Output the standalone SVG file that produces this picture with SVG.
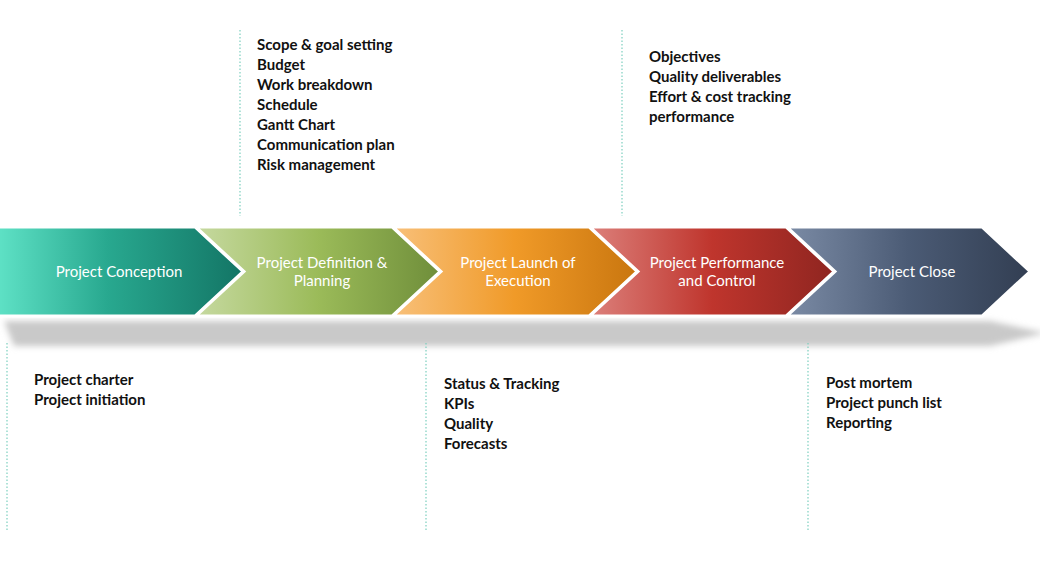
<svg xmlns="http://www.w3.org/2000/svg" width="1040" height="569" viewBox="0 0 1040 569">
<style>
.lbl{font-family:Lato,"Open Sans","Liberation Sans",sans-serif;font-size:15px;fill:#ffffff;text-anchor:middle}
.note{font-family:Lato,"Open Sans","Liberation Sans",sans-serif;font-size:15px;font-weight:bold;fill:#111111}
.lead{stroke:#7ccfbf;stroke-width:1.2;stroke-dasharray:1.5 2;fill:none}
.chev{stroke:#ffffff;stroke-width:3;stroke-linejoin:miter}
</style>
<defs>
<linearGradient id="g1" x1="0" x2="1" y1="0" y2="0"><stop offset="0" stop-color="#5fe2c6"/><stop offset="0.45" stop-color="#28a88f"/><stop offset="1" stop-color="#137565"/></linearGradient>
<linearGradient id="g2" x1="0" x2="1" y1="0" y2="0"><stop offset="0" stop-color="#c6d9a0"/><stop offset="0.5" stop-color="#9bbb59"/><stop offset="1" stop-color="#6f8e3a"/></linearGradient>
<linearGradient id="g3" x1="0" x2="1" y1="0" y2="0"><stop offset="0" stop-color="#f8c07a"/><stop offset="0.5" stop-color="#f09a28"/><stop offset="1" stop-color="#c9760f"/></linearGradient>
<linearGradient id="g4" x1="0" x2="1" y1="0" y2="0"><stop offset="0" stop-color="#dc807b"/><stop offset="0.5" stop-color="#bf352d"/><stop offset="1" stop-color="#8f2520"/></linearGradient>
<linearGradient id="g5" x1="0" x2="1" y1="0" y2="0"><stop offset="0" stop-color="#7b8ba5"/><stop offset="0.5" stop-color="#4b5b75"/><stop offset="1" stop-color="#323e52"/></linearGradient>
<filter id="blur" x="-5%" y="-50%" width="110%" height="200%"><feGaussianBlur stdDeviation="3"/></filter>
</defs>
<rect width="1040" height="569" fill="#ffffff"/>
<polygon points="4,321 990,321 1046,333 990,346 14,346" fill="#c9c9c9" filter="url(#blur)"/>
<g id="connectors">
<line class="lead" x1="240" y1="30" x2="240" y2="216"/>
<line class="lead" x1="622" y1="30" x2="622" y2="216"/>
<line class="lead" x1="7" y1="343" x2="7" y2="530"/>
<line class="lead" x1="426" y1="343" x2="426" y2="530"/>
<line class="lead" x1="808" y1="343" x2="808" y2="530"/>
</g>
<g id="node1">
<polygon class="chev" fill="url(#g1)" points="-3,227 195,227 243,271.5 195,316 -3,316"/>
<text class="lbl" x="119" y="277">Project Conception</text>
</g>
<g id="node2">
<polygon class="chev" fill="url(#g2)" points="196,227 392,227 440,271.5 392,316 196,316 244,271.5"/>
<text class="lbl" x="322" y="268">Project Definition &amp;</text>
<text class="lbl" x="322" y="286">Planning</text>
</g>
<g id="node3">
<polygon class="chev" fill="url(#g3)" points="393,227 589,227 637,271.5 589,316 393,316 441,271.5"/>
<text class="lbl" x="518" y="268">Project Launch of</text>
<text class="lbl" x="518" y="286">Execution</text>
</g>
<g id="node4">
<polygon class="chev" fill="url(#g4)" points="590,227 786,227 834,271.5 786,316 590,316 638,271.5"/>
<text class="lbl" x="717" y="268">Project Performance</text>
<text class="lbl" x="717" y="286">and Control</text>
</g>
<g id="node5">
<polygon class="chev" fill="url(#g5)" points="787,227 982,227 1030,271.5 982,316 787,316 835,271.5"/>
<text class="lbl" x="912" y="277">Project Close</text>
</g>
<g id="notes-planning">
<text class="note" x="257" y="50">Scope &amp; goal setting</text>
<text class="note" x="257" y="70">Budget</text>
<text class="note" x="257" y="90">Work breakdown</text>
<text class="note" x="257" y="110">Schedule</text>
<text class="note" x="257" y="130">Gantt Chart</text>
<text class="note" x="257" y="150">Communication plan</text>
<text class="note" x="257" y="170">Risk management</text>
</g>
<g id="notes-performance">
<text class="note" x="649" y="62">Objectives</text>
<text class="note" x="649" y="82">Quality deliverables</text>
<text class="note" x="649" y="102">Effort &amp; cost tracking</text>
<text class="note" x="649" y="122">performance</text>
</g>
<g id="notes-conception">
<text class="note" x="34" y="385">Project charter</text>
<text class="note" x="34" y="405">Project initiation</text>
</g>
<g id="notes-launch">
<text class="note" x="444" y="389">Status &amp; Tracking</text>
<text class="note" x="444" y="409">KPIs</text>
<text class="note" x="444" y="429">Quality</text>
<text class="note" x="444" y="449">Forecasts</text>
</g>
<g id="notes-close">
<text class="note" x="826" y="388">Post mortem</text>
<text class="note" x="826" y="408">Project punch list</text>
<text class="note" x="826" y="428">Reporting</text>
</g>
</svg>
